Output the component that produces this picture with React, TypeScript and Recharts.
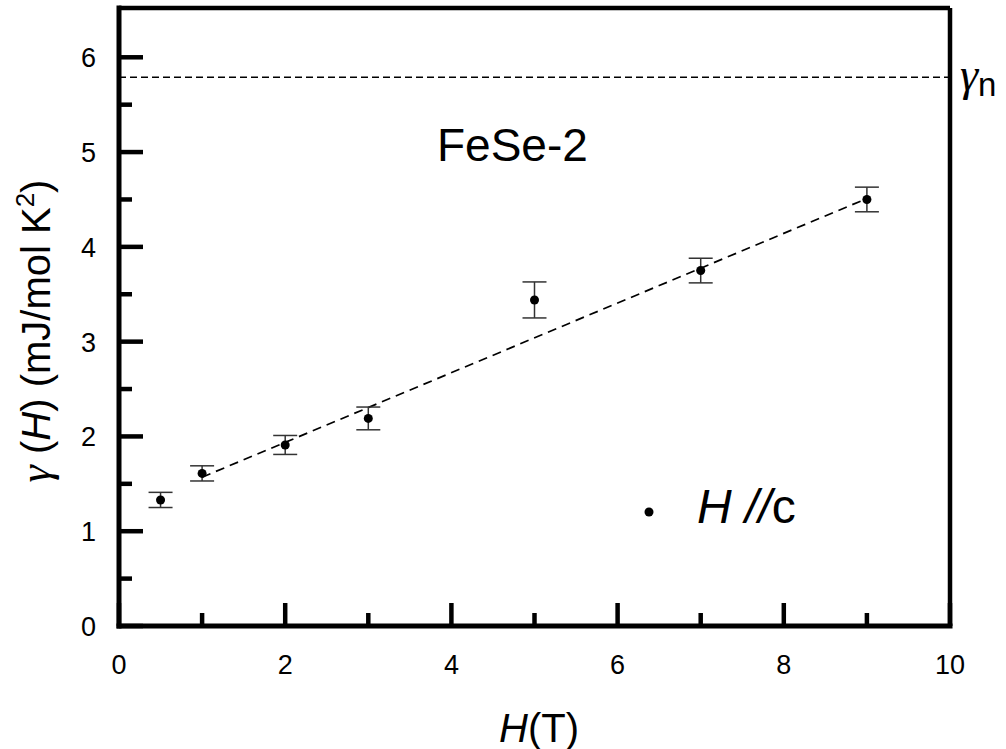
import { ComposedChart, Scatter, XAxis, YAxis, ErrorBar, ReferenceLine } from "recharts";

const fieldH = [0.5, 1, 2, 3, 5, 7, 9];
const gammaH = [1.33, 1.61, 1.91, 2.19, 3.44, 3.75, 4.5];
const gammaErr = [0.08, 0.08, 0.1, 0.12, 0.19, 0.13, 0.13];
const fitH = [1, 9];
const fitGamma = [1.57, 4.51];
const gammaN = 5.79;
const xTicks = [0, 1, 2, 3, 4, 5, 6, 7, 8, 9, 10];
const yTicks = [0, 0.5, 1, 1.5, 2, 2.5, 3, 3.5, 4, 4.5, 5, 5.5, 6];
const yTop = 6.52;

const SANS = "'Liberation Sans', Arial, sans-serif";
const SERIF = "'Liberation Serif', 'Times New Roman', serif";

const points = fieldH.map((h, i) => ({ h, g: gammaH[i], e: gammaErr[i] }));

const XTick = (p: any) => {
  const { x, y, payload } = p;
  const major = payload.value % 2 === 0;
  return (
    <g>
      <line x1={x} x2={x} y1={y} y2={y - (major ? 23 : 13)} stroke="#000" strokeWidth={4.5} />
      {major && (
        <text x={x} y={y + 48} textAnchor="middle" fontSize={27} fontFamily={SANS} fill="#000">
          {payload.value}
        </text>
      )}
    </g>
  );
};

const YTick = (p: any) => {
  const { x, y, payload } = p;
  const major = payload.value % 1 === 0;
  return (
    <g>
      <line x1={x} x2={x + (major ? 24 : 13)} y1={y} y2={y} stroke="#000" strokeWidth={4.5} />
      {major && (
        <text x={x - 23} y={y + 10} textAnchor="end" fontSize={27} fontFamily={SANS} fill="#000">
          {payload.value}
        </text>
      )}
    </g>
  );
};

export default function App() {
  return (
    <div style={{ position: "absolute", left: 0, top: 0, width: 1006, height: 749, background: "#fff" }}>
      <ComposedChart width={1006} height={749} margin={{ top: 8, right: 56, left: 0, bottom: 0 }}>
        <XAxis
          type="number"
          dataKey="h"
          domain={[0, 10]}
          ticks={xTicks}
          interval={0}
          height={123}
          tickSize={0}
          tickMargin={0}
          tick={<XTick />}
          axisLine={{ stroke: "#000", strokeWidth: 5, strokeLinecap: "square" }}
        />
        <YAxis
          type="number"
          dataKey="g"
          domain={[0, yTop]}
          ticks={yTicks}
          interval={0}
          width={119}
          tickSize={0}
          tickMargin={0}
          tick={<YTick />}
          axisLine={{ stroke: "#000", strokeWidth: 5, strokeLinecap: "square" }}
        />
        <ReferenceLine x={10} stroke="#000" strokeWidth={4.5} />
        <ReferenceLine y={yTop} stroke="#000" strokeWidth={4.5} />
        <ReferenceLine y={gammaN} stroke="#000" strokeWidth={1.6} strokeDasharray="7 4" />
        <ReferenceLine
          segment={[
            { x: fitH[0], y: fitGamma[0] },
            { x: fitH[1], y: fitGamma[1] },
          ]}
          stroke="#000"
          strokeWidth={1.7}
          strokeDasharray="9 6"
        />
        <Scatter data={points} dataKey="g" fill="#000" isAnimationActive={false}>
          <ErrorBar dataKey="e" direction="y" width={12} stroke="#333" strokeWidth={1.5} />
        </Scatter>
      </ComposedChart>
      <svg width={1006} height={749} style={{ position: "absolute", left: 0, top: 0, pointerEvents: "none" }}>
        <text x={437} y={161} fontSize={46} fontFamily={SANS} fill="#000">FeSe-2</text>
        <text x={960} y={90} fontSize={46} fontFamily={SERIF} fontStyle="italic" fill="#000">γ</text>
        <text x={978} y={96} fontSize={33} fontFamily={SANS} fill="#000">n</text>
        <circle cx={649} cy={512} r={4.5} fill="#000" />
        <text x={697} y={523} fontSize={48} fontFamily={SANS} fill="#000">
          <tspan fontStyle="italic">H //</tspan>
          <tspan>c</tspan>
        </text>
        <text x={539} y={742} fontSize={40} fontFamily={SANS} fill="#000" textAnchor="middle">
          <tspan fontStyle="italic">H</tspan>
          <tspan>(T)</tspan>
        </text>
        <text transform="translate(50,331) rotate(-90)" textAnchor="middle" fontSize={40} fontFamily={SANS} fill="#000">
          <tspan fontFamily={SERIF} fontStyle="italic" fontSize={44}>γ</tspan>
          <tspan> (</tspan>
          <tspan fontStyle="italic">H</tspan>
          <tspan>) (mJ/mol K</tspan>
          <tspan fontSize={26} dy={-16}>2</tspan>
          <tspan dy={16}>)</tspan>
        </text>
      </svg>
    </div>
  );
}
